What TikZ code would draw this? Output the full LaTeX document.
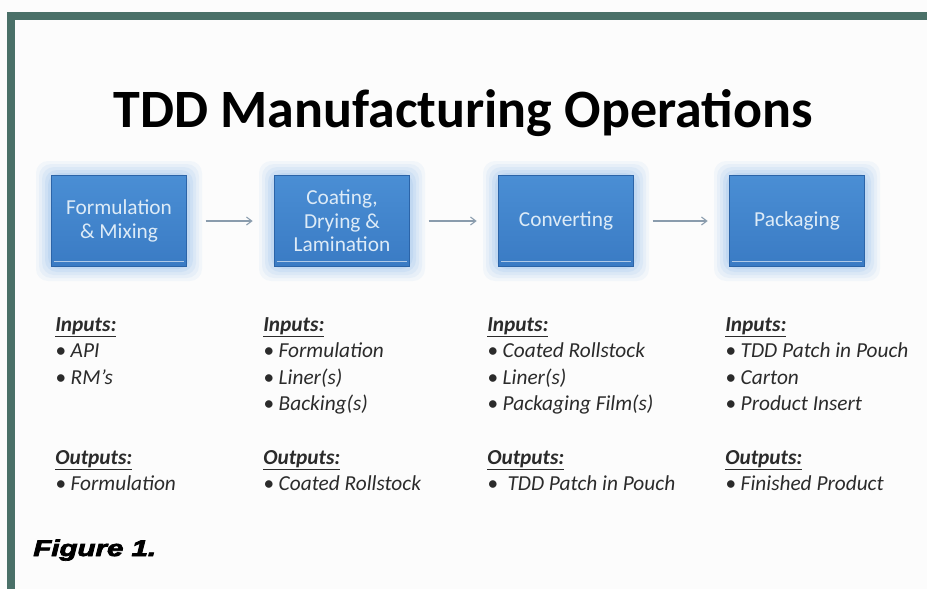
\documentclass[tikz,border=0pt]{standalone}
\usepackage{fontspec}
\setmainfont{Carlito}
\newfontfamily\figfont[FakeBold=3]{Liberation Sans Bold Italic}
\usetikzlibrary{arrows.meta}
\definecolor{framecolor}{HTML}{4A7068}
\definecolor{pagecolor}{HTML}{FCFCFC}
\definecolor{steptop}{HTML}{4A8ED4}
\definecolor{stepbottom}{HTML}{3A7BC4}
\definecolor{stepedge}{HTML}{2B64A8}
\definecolor{glowcolor}{HTML}{9CC4EC}
\definecolor{steptext}{HTML}{DDEBF7}
\definecolor{flowcolor}{HTML}{8A9CAD}
\definecolor{listcolor}{HTML}{2B2B2B}

\begin{document}
\begin{tikzpicture}[
  x=0.75pt, y=-0.75pt,
  >={Straight Barb[length=4pt,width=6pt]},
  stepbox/.style={draw=stepedge, line width=1pt,
    top color=steptop, bottom color=stepbottom,
    minimum width=101pt, minimum height=68pt, inner sep=0pt,
    text=steptext, align=center, font=\fontsize{16}{17.5}\selectfont},
  flow/.style={draw=flowcolor, line width=0.8pt, ->,
    shorten <=14pt, shorten >=16pt},
  iolist/.style={anchor=north west, inner sep=0pt, align=left,
    text=listcolor, font=\fontsize{16}{19.9}\selectfont\itshape}
]
  \useasboundingbox (0,0) rectangle (927,589);
  \fill[pagecolor] (0,0) rectangle (927,589);

  % frame bars
  \fill[framecolor] (7,12) rectangle (927,20);
  \fill[framecolor] (7,12) rectangle (15,589);

  % title
  \node[font=\fontsize{40.5}{48}\bfseries] (title) at (463,113)
    {TDD Manufacturing Operations};

  % glow behind the steps
  \foreach \cx in {119,342,566,797}{
    \foreach \w/\o in {15/0.1,12/0.12,9/0.15,6/0.2,3/0.25}{
      \fill[glowcolor, opacity=\o, rounded corners=9pt]
        (\cx-68-\w,176-\w) rectangle (\cx+68+\w,266+\w);
    }
  }

  % process steps
  \node[stepbox] (mix)  at (119,221) {Formulation\\\& Mixing};
  \node[stepbox] (coat) at (342,221) {Coating,\\Drying \&\\Lamination};
  \node[stepbox] (conv) at (566,221) {Converting};
  \node[stepbox] (pack) at (797,221) {Packaging};

  \foreach \s in {mix,coat,conv,pack}{
    \draw[white, opacity=0.6, line width=0.8pt]
      ([xshift=2pt,yshift=4pt]\s.south west) -- ([xshift=-2pt,yshift=4pt]\s.south east);
  }

  \draw[flow] (mix) -- (coat);
  \draw[flow] (coat) -- (conv);
  \draw[flow] (conv) -- (pack);

  % inputs
  \node[iolist] (in1) at (55,317) {\underline{\textbf{Inputs:}}\\\textbullet\ API\\\textbullet\ RM’s};
  \node[iolist] (in2) at (263,317) {\underline{\textbf{Inputs:}}\\\textbullet\ Formulation\\\textbullet\ Liner(s)\\\textbullet\ Backing(s)};
  \node[iolist] (in3) at (487,317) {\underline{\textbf{Inputs:}}\\\textbullet\ Coated Rollstock\\\textbullet\ Liner(s)\\\textbullet\ Packaging Film(s)};
  \node[iolist] (in4) at (725,317) {\underline{\textbf{Inputs:}}\\\textbullet\ TDD Patch in Pouch\\\textbullet\ Carton\\\textbullet\ Product Insert};

  % outputs
  \node[iolist] (out1) at (55,450) {\underline{\textbf{Outputs:}}\\\textbullet\ Formulation};
  \node[iolist] (out2) at (263,450) {\underline{\textbf{Outputs:}}\\\textbullet\ Coated Rollstock};
  \node[iolist] (out3) at (487,450) {\underline{\textbf{Outputs:}}\\\textbullet\ \ TDD Patch in Pouch};
  \node[iolist] (out4) at (725,450) {\underline{\textbf{Outputs:}}\\\textbullet\ Finished Product};

  \node[anchor=base west, inner sep=0pt, xscale=1.3,
    font=\figfont\fontsize{17}{20}\selectfont] (fig) at (33,556) {Figure 1.};
\end{tikzpicture}
\end{document}
